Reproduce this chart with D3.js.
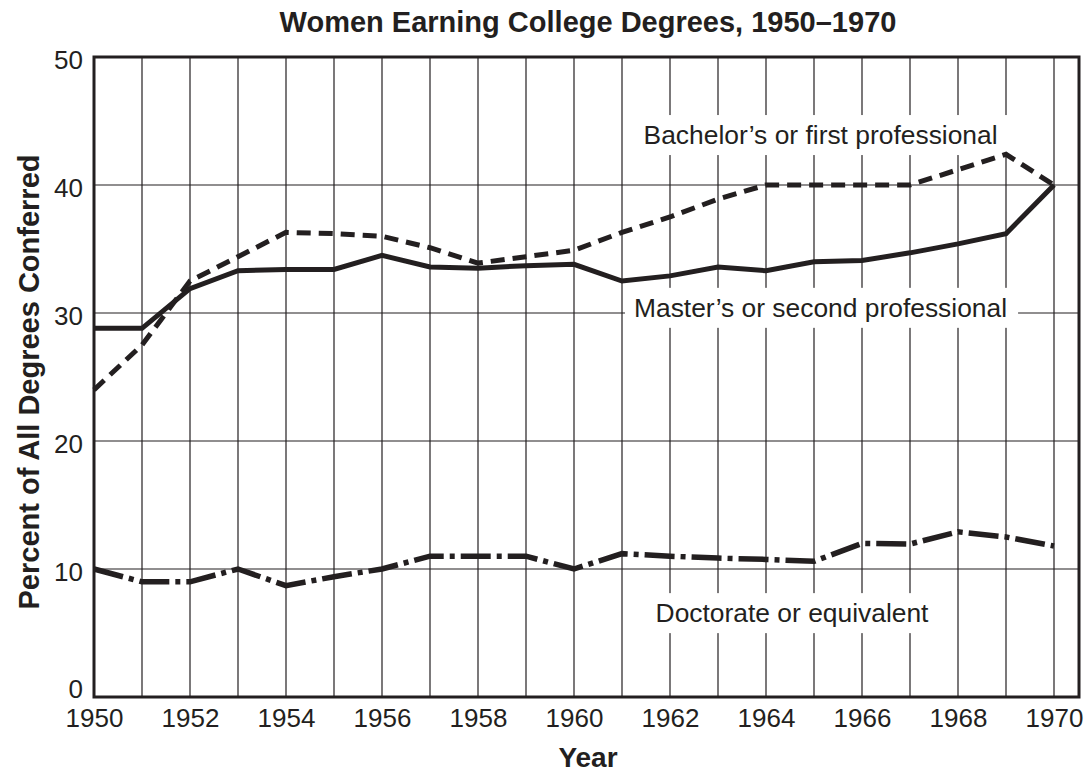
<!DOCTYPE html>
<html>
<head>
<meta charset="utf-8">
<script src="https://cdn.jsdelivr.net/npm/d3@7/dist/d3.min.js"></script>
<style>
  html, body { margin: 0; padding: 0; background: #fff; }
  svg { display: block; font-family: "Liberation Sans", Arial, Helvetica, sans-serif; }
</style>
</head>
<body>
<svg id="chart" width="1089" height="774"></svg>
<script>
const years = d3.range(1950, 1971)
const bachelors = [24.0, 27.5, 32.5, 34.4, 36.3, 36.2, 36.0, 35.1, 33.9, 34.4, 34.9, 36.3, 37.5, 38.9, 40.0, 40.0, 40.0, 40.0, 41.2, 42.4, 40.0]
const masters = [28.8, 28.8, 31.9, 33.3, 33.4, 33.4, 34.5, 33.6, 33.5, 33.7, 33.8, 32.5, 32.9, 33.6, 33.3, 34.0, 34.1, 34.7, 35.4, 36.2, 40.0]
const doctorate = [10.0, 9.0, 9.0, 10.0, 8.7, 9.4, 10.0, 11.0, 11.0, 11.0, 10.0, 11.2, 11.0, 10.85, 10.75, 10.6, 12.0, 11.95, 12.9, 12.5, 11.8]
const yTicks = [0, 10, 20, 30, 40, 50]
const xTicks = d3.range(1950, 1971, 2)

const INK = '#231f20'
const W = 1089, H = 774
const M = { top: 57, right: 10, bottom: 77, left: 94 }

const svg = d3.select('#chart')
const x = d3.scaleLinear().domain([1950, 1970]).range([M.left, 1054])
const y = d3.scaleLinear().domain([0, 50]).range([H - M.bottom, M.top])
const xRight = W - M.right

// grid
const grid = svg.append('g').attr('stroke', INK).attr('stroke-width', 1.2)
grid.selectAll('line.v').data(years.slice(1)).join('line').attr('class', 'v')
    .attr('x1', d => x(d)).attr('x2', d => x(d)).attr('y1', y(0)).attr('y2', y(50))
grid.selectAll('line.h').data(yTicks.slice(1, -1)).join('line').attr('class', 'h')
    .attr('x1', x(1950)).attr('x2', xRight).attr('y1', d => y(d)).attr('y2', d => y(d))

// series labels on white boxes
const labels = [
    { text: 'Bachelor\u2019s or first professional', yr: 1961.45, v: 43.2 },
    { text: 'Master\u2019s or second professional', yr: 1961.25, v: 29.7 },
    { text: 'Doctorate or equivalent', yr: 1961.7, v: 5.85 }
]
const lg = svg.append('g')
labels.forEach(function (l) {
    const t = lg.append('text').attr('x', x(l.yr)).attr('y', y(l.v))
        .attr('font-size', 26.4).attr('fill', INK).text(l.text)
    const b = t.node().getBBox()
    lg.insert('rect', 'text').attr('x', b.x - 9).attr('y', b.y - 5)
        .attr('width', b.width + 20).attr('height', b.height + 10).attr('fill', '#fff')
})

// frame
svg.append('rect').attr('x', x(1950)).attr('y', y(50))
    .attr('width', xRight - x(1950)).attr('height', y(0) - y(50))
    .attr('fill', 'none').attr('stroke', INK).attr('stroke-width', 3)

// data lines
const line = d3.line().x((d, i) => x(years[i])).y(d => y(d))
svg.append('path').datum(bachelors).attr('d', line).attr('fill', 'none')
    .attr('stroke', INK).attr('stroke-width', 5).attr('stroke-dasharray', '14,8')
svg.append('path').datum(masters).attr('d', line).attr('fill', 'none')
    .attr('stroke', INK).attr('stroke-width', 5)
svg.append('path').datum(doctorate).attr('d', line).attr('fill', 'none')
    .attr('stroke', INK).attr('stroke-width', 5.5).attr('stroke-dasharray', '30,6,5,6')

// axes
const yAxis = svg.append('g').attr('transform', 'translate(' + x(1950) + ',0)')
    .call(d3.axisLeft(y).tickValues(yTicks).tickSize(0).tickPadding(11))
const xAxis = svg.append('g').attr('transform', 'translate(0,' + y(0) + ')')
    .call(d3.axisBottom(x).tickValues(xTicks).tickFormat(d3.format('d')).tickSize(0).tickPadding(11))
;[yAxis, xAxis].forEach(function (a) {
    a.attr('font-family', null).attr('font-size', null)
    a.select('.domain').remove()
    a.selectAll('text').attr('font-size', 26).attr('fill', INK)
})
// zero label sits up off the x axis, as in the original
yAxis.selectAll('text').attr('dy', d => d === 0 ? '0' : '0.44em')
xAxis.selectAll('text').attr('dy', '0.74em')

// titles
svg.append('text').attr('x', 588).attr('y', 32).attr('text-anchor', 'middle')
    .attr('font-size', 29).attr('font-weight', 'bold').attr('fill', INK)
    .text('Women Earning College Degrees, 1950\u20131970')
svg.append('text').attr('x', x(1960) + 14).attr('y', 767).attr('text-anchor', 'middle')
    .attr('font-size', 28).attr('font-weight', 'bold').attr('fill', INK).text('Year')
svg.append('text').attr('transform', 'translate(39,' + 382 + ') rotate(-90)').attr('text-anchor', 'middle')
    .attr('font-size', 29).attr('font-weight', 'bold').attr('fill', INK)
    .text('Percent of All Degrees Conferred')
</script>
</body>
</html>
